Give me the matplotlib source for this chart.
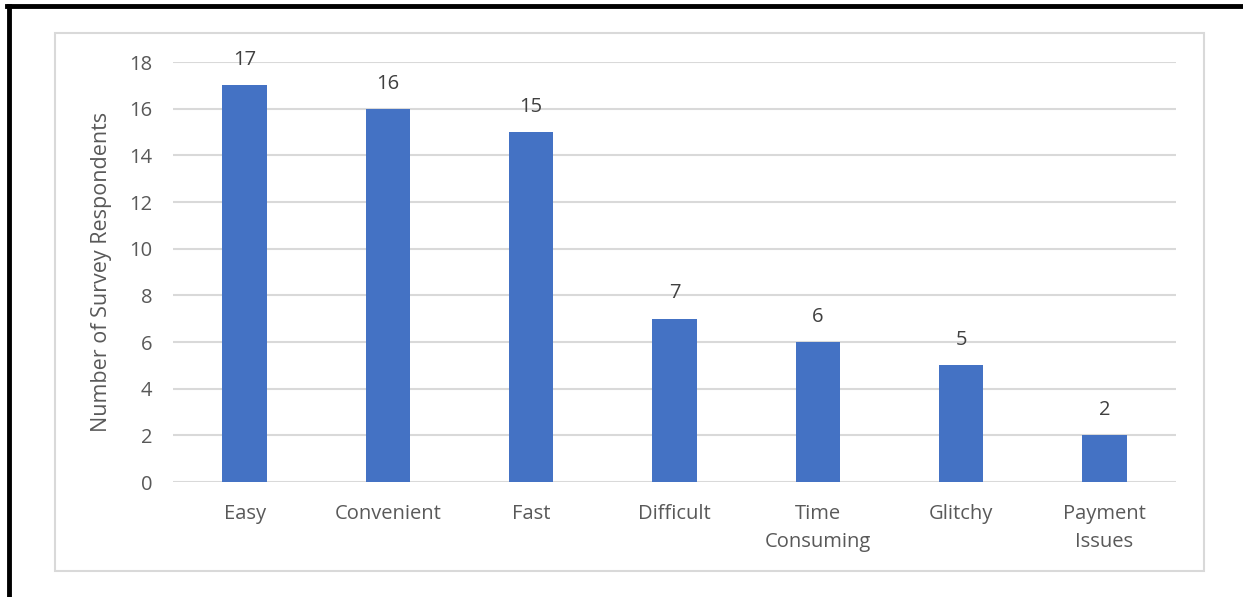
import matplotlib.pyplot as plt
from matplotlib.patches import Rectangle
from matplotlib.lines import Line2D

categories = ['Easy', 'Convenient', 'Fast', 'Difficult', 'Time\nConsuming', 'Glitchy', 'Payment\nIssues']
respondents = [17, 16, 15, 7, 6, 5, 2]
yticks = [0, 2, 4, 6, 8, 10, 12, 14, 16, 18]

bar_color = '#4472C4'
text_color = '#595959'
grid_color = '#D9D9D9'

plt.rcParams['font.family'] = ['Open Sans', 'DejaVu Sans']

W, H = 1243, 597
fig = plt.figure(figsize=(W / 100, H / 100), dpi=100)

# black frame lines (top and left) and the light grey chart box
fig.add_artist(Line2D([7 / W, 1], [1 - 6 / H, 1 - 6 / H], color='black', lw=3.5))
fig.add_artist(Line2D([9 / W, 9 / W], [0, 1 - 6 / H], color='black', lw=3.5))
fig.add_artist(Rectangle((55 / W, 1 - 571 / H), (1204 - 55) / W, (571 - 33) / H,
                         fill=False, edgecolor=grid_color, lw=1.5))

ax = fig.add_axes([173 / W, 1 - 482 / H, (1176 - 173) / W, (482 - 62) / H])
x = range(len(categories))
bars = ax.bar(x, respondents, width=0.31, color=bar_color, zorder=3)

for xi, v in zip(x, respondents):
    ax.text(xi, v + 0.65, str(v), ha='center', va='bottom', fontsize=14.5, color='#404040')

ax.set_xlim(-0.5, len(categories) - 0.5)
ax.set_ylim(0, 18)
ax.set_yticks(yticks)
ax.set_yticklabels([str(t) for t in yticks], fontsize=14.5, color=text_color)
ax.set_xticks(list(x))
ax.set_xticklabels(categories, fontsize=14.5, color=text_color, linespacing=1.55, va='top')
ax.tick_params(axis='both', length=0)
ax.tick_params(axis='x', pad=16)
ax.tick_params(axis='y', pad=15)
ax.grid(axis='y', color=grid_color, lw=1.5, zorder=0)
for s in ax.spines.values():
    s.set_visible(False)

ax.set_ylabel('Number of Survey Respondents', fontsize=15.5, color=text_color, labelpad=12)

fig.savefig('out.png', dpi=100)
